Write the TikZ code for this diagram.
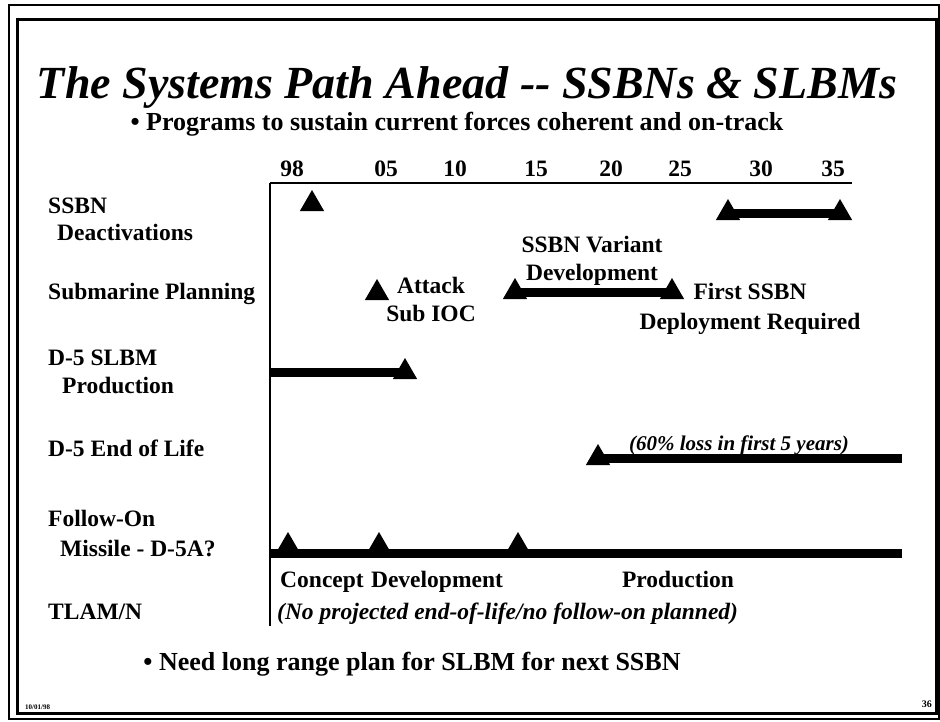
\documentclass[tikz,border=0pt]{standalone}
\usepackage{fontspec}
\setmainfont{Liberation Serif}
\usepackage{tikz}
\usetikzlibrary{shapes,positioning}
\newcommand{\slidefont}[1]{\fontsize{#1}{#1}\selectfont}
\tikzset{
    rowlabel/.style={anchor=base west, inner sep=0pt, font=\bfseries\slidefont{23.5}},
    yearlabel/.style={anchor=base, inner sep=0pt, font=\bfseries\slidefont{23.5}},
    note/.style={anchor=base, inner sep=0pt, font=\bfseries\slidefont{23.5}},
    remark/.style={anchor=base, inner sep=0pt, font=\bfseries\itshape\slidefont{21}},
    bulletline/.style={anchor=base, inner sep=0pt, font=\bfseries\slidefont{26}},
    marker/.style={regular polygon, regular polygon sides=3, fill=black, minimum size=28pt, inner sep=0pt},
    bar/.style={draw, line width=9pt},
    axis/.style={draw, line width=1.8pt}
}

\begin{document}
\begin{tikzpicture}[x=1pt, y=-1pt]
    \useasboundingbox (0,0) rectangle (940,721);

    % Slide frame
    \draw [line width=1.2pt] (9,5) rectangle (939,719);
    \draw [line width=3pt] (17,19) rectangle (936,713);

    % Title and subtitle
    \node [anchor=base, inner sep=0pt, font=\bfseries\itshape\slidefont{46}] (title) at (467,98) {The Systems Path Ahead -{}- SSBNs \& SLBMs};
    \node [bulletline] (sub) at (457,130) {\textbullet\ Programs to sustain current forces coherent and on-track};

    % Time axis
    \coordinate (axtl) at (270,183);
    \coordinate (axtr) at (852,183);
    \coordinate (axbl) at (270,626);
    \path [axis] (axtr) -- (axtl);
    \path [axis, line width=1.4pt] (axtl) -- (axbl);
    \foreach \yr/\xp in {98/292, 05/386, 10/455, 15/536, 20/611, 25/680, 30/761, 35/833}
        \node [yearlabel] (yr\yr) at (\xp,176) {\yr};

    % Row labels
    \node [rowlabel] (ssbn) at (48,213) {SSBN};
    \node [rowlabel] (deact) at ([shift={(9,27)}]ssbn.base west) {Deactivations};
    \node [rowlabel] (subplan) at (48,299) {Submarine Planning};
    \node [rowlabel] (slbm) at (48,365) {D-5 SLBM};
    \node [rowlabel] (prod) at ([shift={(14,28)}]slbm.base west) {Production};
    \node [rowlabel] (eollbl) at (48,456) {D-5 End of Life};
    \node [rowlabel] (follow) at (48,526) {Follow-On};
    \node [rowlabel] (missile) at ([shift={(12,30)}]follow.base west) {Missile - D-5A?};
    \node [rowlabel] (tlam) at (48,619) {TLAM/N};

    % SSBN deactivations
    \node [marker] (dea98) at (312,204) {};
    \node [marker] (dea28) at (728,213) {};
    \node [marker] (dea35) at (840,213) {};
    \path [bar] (dea28.center) -- (dea35.center);

    % Submarine planning
    \node [marker] (ioc) at (377,293) {};
    \node [note] (attack) at (431,293) {Attack};
    \node [note] (subioc) at ([shift={(0,28)}]attack.base) {Sub IOC};
    \node [marker] (var15) at (515,292) {};
    \node [marker] (var25) at (672,292) {};
    \path [bar] (var15.center) -- (var25.center);
    \node [note] (variant) at (592,252) {SSBN Variant};
    \node [note] (vardev) at ([shift={(0,28)}]variant.base) {Development};
    \node [note] (first) at (750,299) {First SSBN};
    \node [note] (deploy) at ([shift={(0,30)}]first.base) {Deployment Required};

    % D-5 production
    \coordinate (slbmstart) at (270,372);
    \node [marker] (slbmend) at (405,372) {};
    \path [bar] (slbmstart) -- (slbmend.center);

    % D-5 end of life
    \node [marker] (eol) at (598,458) {};
    \coordinate (eolend) at (902,458);
    \path [bar] (eol.center) -- (eolend);
    \node [remark] (loss) at (739,450) {(60\% loss in first 5 years)};

    % Follow-on missile
    \coordinate (fostart) at (270,553);
    \coordinate (foend) at (902,553);
    \path [bar] (fostart) -- (foend);
    \node [marker] (concept) at (288,546) {};
    \node [marker] (develop) at (379,546) {};
    \node [marker] (produce) at (518,546) {};
    \node [note] (conceptlbl) at (322,587) {Concept};
    \node [note] (developlbl) at (437,587) {Development};
    \node [note] (producelbl) at (678,587) {Production};

    % TLAM/N
    \node [remark, anchor=base west, font=\bfseries\itshape\slidefont{23.5}] (nofollow) at (277,619) {(No projected end-of-life/no follow-on planned)};

    % Closing point and footer
    \node [bulletline] (need) at (412,670) {\textbullet\ Need long range plan for SLBM for next SSBN};
    \node [anchor=base west, inner sep=0pt, font=\bfseries\slidefont{7}] (date) at (25,709) {10/01/98};
    \node [anchor=base east, inner sep=0pt, font=\bfseries\slidefont{10}] (page) at (932,707) {36};
\end{tikzpicture}
\end{document}
